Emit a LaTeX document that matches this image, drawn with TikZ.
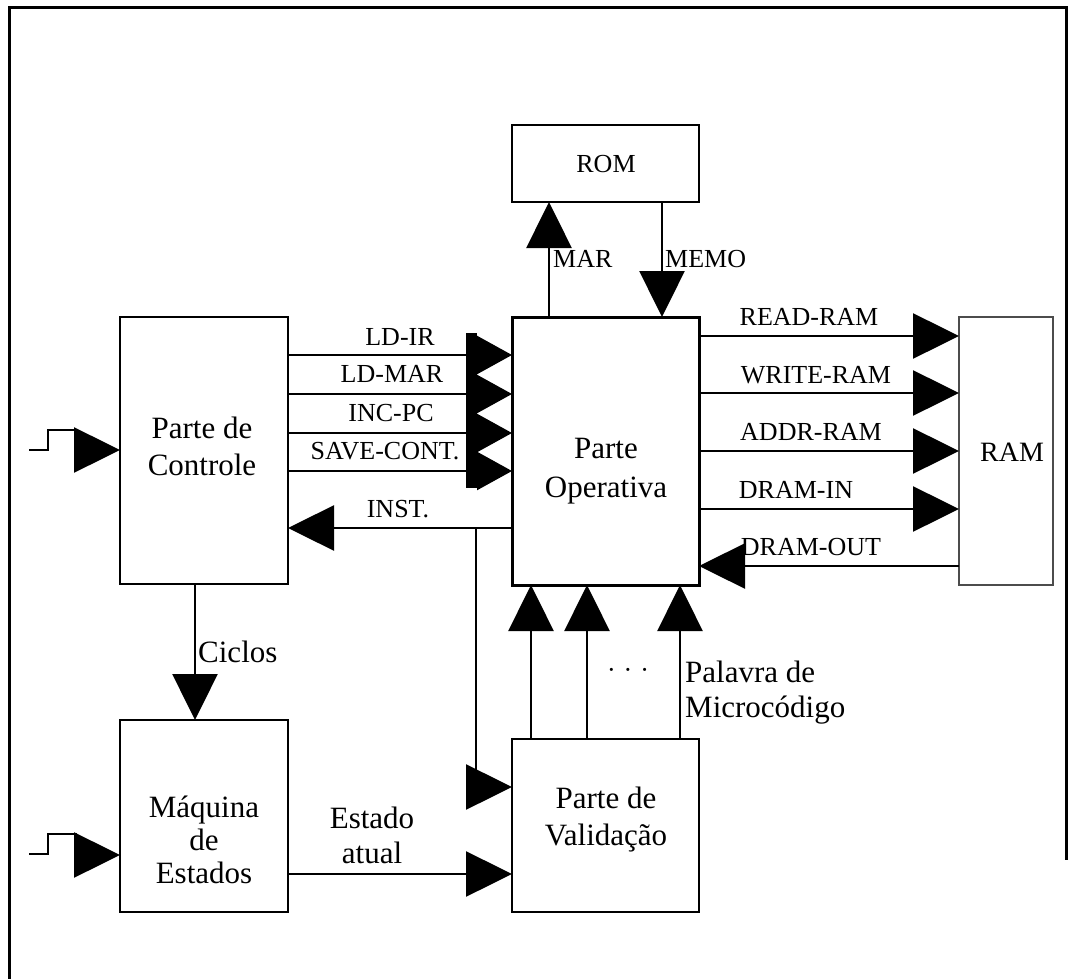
\documentclass[tikz,border=0pt]{standalone}
\usepackage{fontspec}
\setmainfont{Liberation Serif}
\usetikzlibrary{arrows.meta}
\begin{document}
\begin{tikzpicture}[x=1pt,y=-1pt,
  blk/.style={draw, inner sep=0pt, outer sep=0pt, line width=2pt},
  big/.style={font=\fontsize{31}{36}\selectfont, align=center, inner sep=0pt},
  small/.style={font=\fontsize{26}{30}\selectfont, inner sep=0pt},
  sig/.style={line width=2.5pt, -{Triangle[length=46pt,width=45pt]}},
  sigb/.style={line width=2.5pt, -{Triangle[length=35pt,width=38pt]}},
  clk/.style={line width=2pt},
]
\useasboundingbox (0,0) rectangle (1076,979);

% outer frame
\draw[line width=3pt] (9.5,979) -- (9.5,7.5) -- (1066,7.5) -- (1066,860);

% blocks
\node[blk, line width=2.5pt, minimum width=187pt, minimum height=77pt] (rom) at (605.5,163.5) {};
\node[blk, line width=3pt, minimum width=187pt, minimum height=268pt] (op) at (605.5,451) {};
\node[blk, minimum width=168pt, minimum height=267pt] (ctl) at (204,450.5) {};
\node[blk, minimum width=168pt, minimum height=192pt] (fsm) at (204,816) {};
\node[blk, minimum width=187pt, minimum height=173pt] (val) at (605.5,825.5) {};
\node[blk, draw=black!70, line width=1.5pt, minimum width=94pt, minimum height=268pt] (ram) at (1006,451) {};

% block captions (base = baseline of the last line)
\node[small, anchor=base] (romtxt) at (606,172) {ROM};
\node[big, anchor=base, font=\fontsize{28}{34}\selectfont] (ramtxt) at (1012,461) {RAM};
\node[big, anchor=base, font=\fontsize{31}{37}\selectfont] (ctltxt) at (202,475) {Parte de\\Controle};
\node[big, anchor=base, font=\fontsize{31}{39}\selectfont] (optxt) at (606,497) {Parte\\Operativa};
\node[big, anchor=base, font=\fontsize{31}{33}\selectfont] (fsmtxt) at (204,883) {Máquina\\de\\Estados};
\node[big, anchor=base, font=\fontsize{31}{37}\selectfont] (valtxt) at (606,845) {Parte de\\Validação};

% ROM interface
\coordinate (xmar) at (549,0);
\coordinate (xmemo) at (662,0);
\draw[sig] (op.north -| xmar) -- (rom.south -| xmar);
\draw[sig] (rom.south -| xmemo) -- (op.north -| xmemo);
\node[small, anchor=base west] (mar) at (553,267) {MAR};
\node[small, anchor=base west] (memo) at (665,267) {MEMO};

% control signals into the datapath
\coordinate (y1) at (0,355);
\coordinate (y2) at (0,394);
\coordinate (y3) at (0,433);
\coordinate (y4) at (0,471);
\fill (466,333) rectangle (477,488);
\draw[sigb] (ctl.east |- y1) -- (op.west |- y1);
\draw[sigb] (ctl.east |- y2) -- (op.west |- y2);
\draw[sigb] (ctl.east |- y3) -- (op.west |- y3);
\draw[sigb] (ctl.east |- y4) -- (op.west |- y4);
\node[small, anchor=base] (ldir) at (400,345) {LD-IR};
\node[small, anchor=base] (ldmar) at (392,382) {LD-MAR};
\node[small, anchor=base] (incpc) at (391,421) {INC-PC};
\node[small, anchor=base] (save) at (385,459) {SAVE-CONT.};

% instruction back to control, branch to validation
\coordinate (yinst) at (0,528);
\coordinate (br) at (476,528);
\coordinate (yval) at (0,787);
\draw[sig] (op.west |- yinst) -- (ctl.east |- yinst);
\draw[sig] (br) |- (val.west |- yval);
\node[small, anchor=base] (inst) at (398,517) {INST.};

% RAM signals
\coordinate (r1) at (0,336);
\coordinate (r2) at (0,393);
\coordinate (r3) at (0,451);
\coordinate (r4) at (0,509);
\coordinate (r5) at (0,566);
\draw[sig] (op.east |- r1) -- (ram.west |- r1);
\draw[sig] (op.east |- r2) -- (ram.west |- r2);
\draw[sig] (op.east |- r3) -- (ram.west |- r3);
\draw[sig] (op.east |- r4) -- (ram.west |- r4);
\draw[sig] (ram.west |- r5) -- (op.east |- r5);
\node[small, anchor=base] (rd) at (809,325) {READ-RAM};
\node[small, anchor=base] (wr) at (816,383) {WRITE-RAM};
\node[small, anchor=base] (ad) at (811,440) {ADDR-RAM};
\node[small, anchor=base] (din) at (796,498) {DRAM-IN};
\node[small, anchor=base] (dout) at (811,555) {DRAM-OUT};

% cycles to state machine
\coordinate (xcyc) at (195,0);
\draw[sig] (ctl.south -| xcyc) -- (fsm.north -| xcyc);
\node[big, anchor=base west] (cyc) at (198,662) {Ciclos};

% current state
\coordinate (yst) at (0,874);
\draw[sig] (fsm.east |- yst) -- (val.west |- yst);
\node[big, anchor=base, font=\fontsize{31}{35}\selectfont] (st) at (372,863) {Estado\\atual};

% microcode word
\coordinate (u1) at (531,0);
\coordinate (u2) at (587,0);
\coordinate (u3) at (680,0);
\draw[sig] (val.north -| u1) -- (op.south -| u1);
\draw[sig] (val.north -| u2) -- (op.south -| u2);
\draw[sig] (val.north -| u3) -- (op.south -| u3);
\node[small, anchor=base] (dots) at (628,678) {·\hspace{8pt}·\hspace{8pt}·};
\node[big, anchor=base west, align=left, font=\fontsize{31}{35}\selectfont] (mw) at (685,717) {Palavra de\\Microcódigo};

% clock inputs
\coordinate (c1) at (74,450);
\coordinate (c2) at (74,855);
\draw[clk] (29,450) -- (48,450) -- (48,430) -- (77,430);
\draw[sig] (c1) -- (ctl.west |- c1);
\draw[clk] (29,854) -- (48,854) -- (48,834) -- (77,834);
\draw[sig] (c2) -- (fsm.west |- c2);
\end{tikzpicture}
\end{document}
